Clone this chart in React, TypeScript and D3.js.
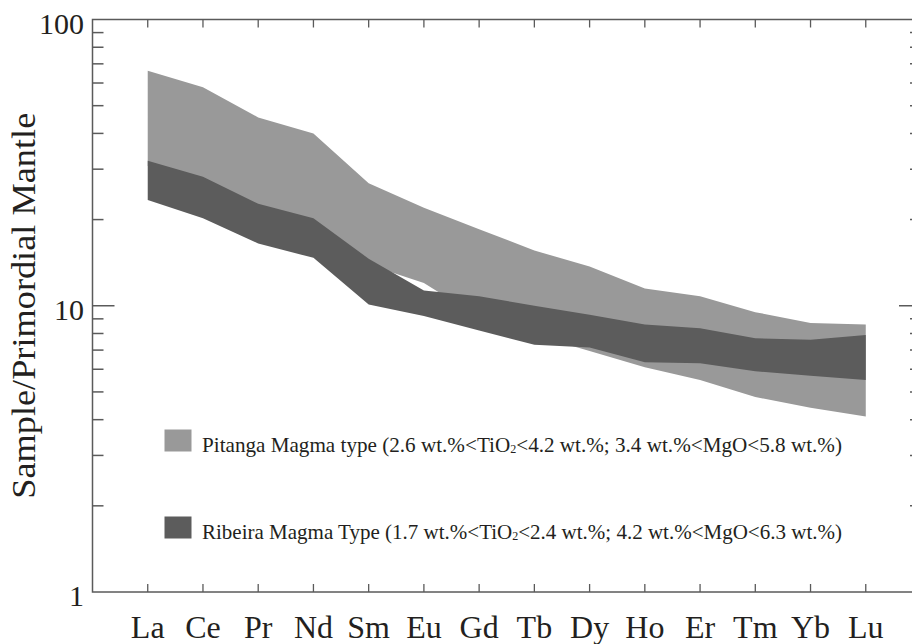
import React from "react";
import * as d3 from "d3";

// REE elements along the x axis
const elements = ["La", "Ce", "Pr", "Nd", "Sm", "Eu", "Gd", "Tb", "Dy", "Ho", "Er", "Tm", "Yb", "Lu"];

// Pitanga magma type envelope (sample / primordial mantle)
const pitangaUpper = [66.2, 58.0, 45.5, 40.0, 26.8, 22.0, 18.5, 15.6, 13.7, 11.5, 10.8, 9.5, 8.7, 8.6];
const pitangaLower = [30.8, 27.1, 21.6, 19.3, 13.9, 12.0, 9.1, 7.9, 6.95, 6.1, 5.5, 4.8, 4.4, 4.1];

// Ribeira magma type envelope
const ribeiraUpper = [32.1, 28.2, 22.7, 20.2, 14.6, 11.3, 10.8, 10.0, 9.3, 8.6, 8.35, 7.7, 7.6, 7.9];
const ribeiraLower = [23.4, 20.2, 16.5, 14.7, 10.1, 9.2, 8.2, 7.3, 7.15, 6.35, 6.3, 5.9, 5.7, 5.5];

const yTickLabels = [1, 10, 100];

const legendItems = [
  { pre: "Pitanga Magma type (2.6 wt.%<TiO", post: "<4.2 wt.%; 3.4 wt.%<MgO<5.8 wt.%)", color: "#999999" },
  { pre: "Ribeira Magma Type (1.7 wt.%<TiO", post: "<2.4 wt.%; 4.2 wt.%<MgO<6.3 wt.%)", color: "#5c5c5c" },
];

const FONT = "Liberation Serif";
const axisColor = "#5a5a5a";
const textColor = "#231f20";

const left = 92.5;
const right = 921;
const top = 19.5;
const bottom = 592;

export default function App() {
  const x = d3.scalePoint<string>().domain(elements).range([left, right]).padding(1);
  const y = d3.scaleLog().domain([1, 100]).range([bottom, top]);

  const band = (upper: number[], lower: number[]) =>
    d3
      .area<number>()
      .x((_, i) => x(elements[i]) as number)
      .y0((_, i) => y(lower[i]))
      .y1((d) => y(d))(upper) as string;

  const minor = y.ticks().filter((t) => t !== 1 && t !== 100);

  return (
    <svg
      width={912}
      height={644}
      fontFamily={FONT}
      style={{ position: "absolute", left: 0, top: 0, background: "#fff" }}
    >
      {/* envelopes */}
      <path d={band(pitangaUpper, pitangaLower)} fill="#999999" />
      <path d={band(ribeiraUpper, ribeiraLower)} fill="#5c5c5c" />

      {/* frame */}
      <rect x={left} y={top} width={right - left} height={bottom - top} fill="none" stroke={axisColor} strokeWidth={1.5} />

      {/* y ticks */}
      {minor.map((t) => {
        const len = t === 10 ? 22 : 11;
        return (
          <g key={t} stroke={axisColor} strokeWidth={1.5}>
            <line x1={left} x2={left + len} y1={y(t)} y2={y(t)} />
            <line x1={right} x2={right - len} y1={y(t)} y2={y(t)} />
          </g>
        );
      })}

      {/* x ticks */}
      {elements.map((e) => (
        <g key={e} stroke={axisColor} strokeWidth={1.3}>
          <line x1={x(e)} x2={x(e)} y1={top} y2={top + 8} />
          <line x1={x(e)} x2={x(e)} y1={bottom} y2={bottom - 8} />
        </g>
      ))}

      {/* y tick labels */}
      {yTickLabels.map((d) => (
        <text key={d} x={84} y={y(d) + 14} textAnchor="end" fill={textColor} fontFamily={FONT} fontSize={30}>
          {d}
        </text>
      ))}

      {/* x labels */}
      {elements.map((e) => (
        <text key={e} x={x(e)} y={638} textAnchor="middle" fill={textColor} fontFamily={FONT} fontSize={32}>
          {e}
        </text>
      ))}

      {/* y title */}
      <text
        transform={`translate(35,${(top + bottom) / 2}) rotate(-90)`}
        textAnchor="middle"
        fill={textColor}
        fontFamily={FONT}
        fontSize={33}
        textLength={386}
        lengthAdjust="spacingAndGlyphs"
      >
        Sample/Primordial Mantle
      </text>

      {/* legend */}
      {legendItems.map((item, i) => {
        const ly = [429.5, 516.5][i];
        return (
          <g key={item.pre}>
            <rect x={164.5} y={ly} width={27} height={22} fill={item.color} />
            <text
              x={202}
              y={ly + 22}
              fill={textColor}
              fontFamily={FONT}
              fontSize={21}
              textLength={640}
              lengthAdjust="spacingAndGlyphs"
            >
              <tspan>{item.pre}</tspan>
              <tspan dy={1} fontSize={12}>2</tspan>
              <tspan dy={-1}>{item.post}</tspan>
            </text>
          </g>
        );
      })}
    </svg>
  );
}
